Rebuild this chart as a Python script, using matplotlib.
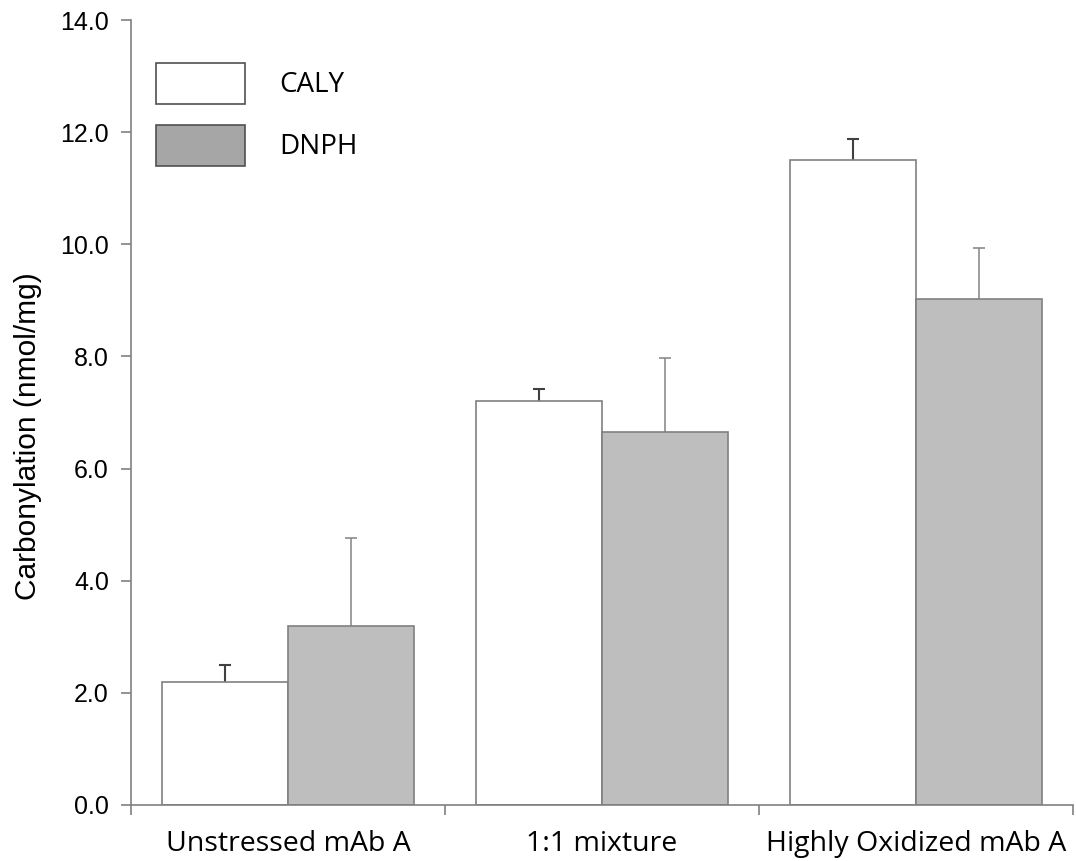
import matplotlib
matplotlib.use('Agg')
import matplotlib.pyplot as plt
import numpy as np

categories = ['Unstressed mAb A', '1:1 mixture', 'Highly Oxidized mAb A']
caly = [2.2, 7.2, 11.5]
caly_err = [0.3, 0.22, 0.38]
dnph = [3.2, 6.65, 9.03]
dnph_err = [1.57, 1.32, 0.9]
yticks = [0, 2, 4, 6, 8, 10, 12, 14]

fig = plt.figure(figsize=(10.76, 8.61), dpi=100)
ax = fig.add_axes([131 / 1076, 56 / 861, 942 / 1076, 785 / 861])

x = np.arange(len(categories))
w = 0.4
edge = '#808080'
ax.bar(x - w / 2, caly, w, color='white', edgecolor=edge, linewidth=1.2, zorder=2)
ax.bar(x + w / 2, dnph, w, color='#bebebe', edgecolor=edge, linewidth=1.2, zorder=2)
# symmetric bars drawn under the boxes, so only the upper half shows
ax.errorbar(x - w / 2, caly, yerr=caly_err, fmt='none',
            ecolor='#404040', elinewidth=1.5, capsize=4, capthick=1.5, zorder=1)
ax.errorbar(x + w / 2, dnph, yerr=dnph_err, fmt='none',
            ecolor='#8c8c8c', elinewidth=1.2, capsize=4, capthick=1.2, zorder=1)

ax.set_xlim(-0.5, 2.5)
ax.set_ylim(0, 14)
ax.spines['top'].set_visible(False)
ax.spines['right'].set_visible(False)
for s in ('left', 'bottom'):
    ax.spines[s].set_color(edge)
    ax.spines[s].set_linewidth(1.2)

ax.set_yticks(yticks)
ax.set_yticklabels(['%.1f' % v for v in yticks], fontfamily='Liberation Sans', fontsize=18)
ax.tick_params(axis='y', direction='out', length=7, width=1.2, color=edge, pad=9)

ax.set_xticks([-0.5, 0.5, 1.5, 2.5])
ax.set_xticklabels([])
ax.tick_params(axis='x', which='major', direction='out', length=7, width=1.2, color=edge)
ax.set_xticks(x, minor=True)
ax.set_xticklabels(categories, minor=True, fontfamily='Open Sans', fontsize=20.5)
ax.tick_params(axis='x', which='minor', length=0, pad=18)

ax.set_ylabel('Carbonylation (nmol/mg)', fontfamily='Liberation Sans', fontsize=21.5)
ax.yaxis.set_label_coords(-0.094, 0.47)

leg = ax.legend(['CALY', 'DNPH'], loc='upper left', bbox_to_anchor=(156 / 1076, 1 - 63 / 861),
                bbox_transform=fig.transFigure, frameon=False, borderpad=0, borderaxespad=0,
                handlelength=3.2, handleheight=1.9, labelspacing=0.75, handletextpad=1.25,
                prop={'family': 'Open Sans', 'size': 20})
leg.legend_handles[1].set_facecolor('#a6a6a6')
for h in leg.legend_handles:
    h.set_edgecolor('#505050')

fig.savefig('out.png', dpi=100)
